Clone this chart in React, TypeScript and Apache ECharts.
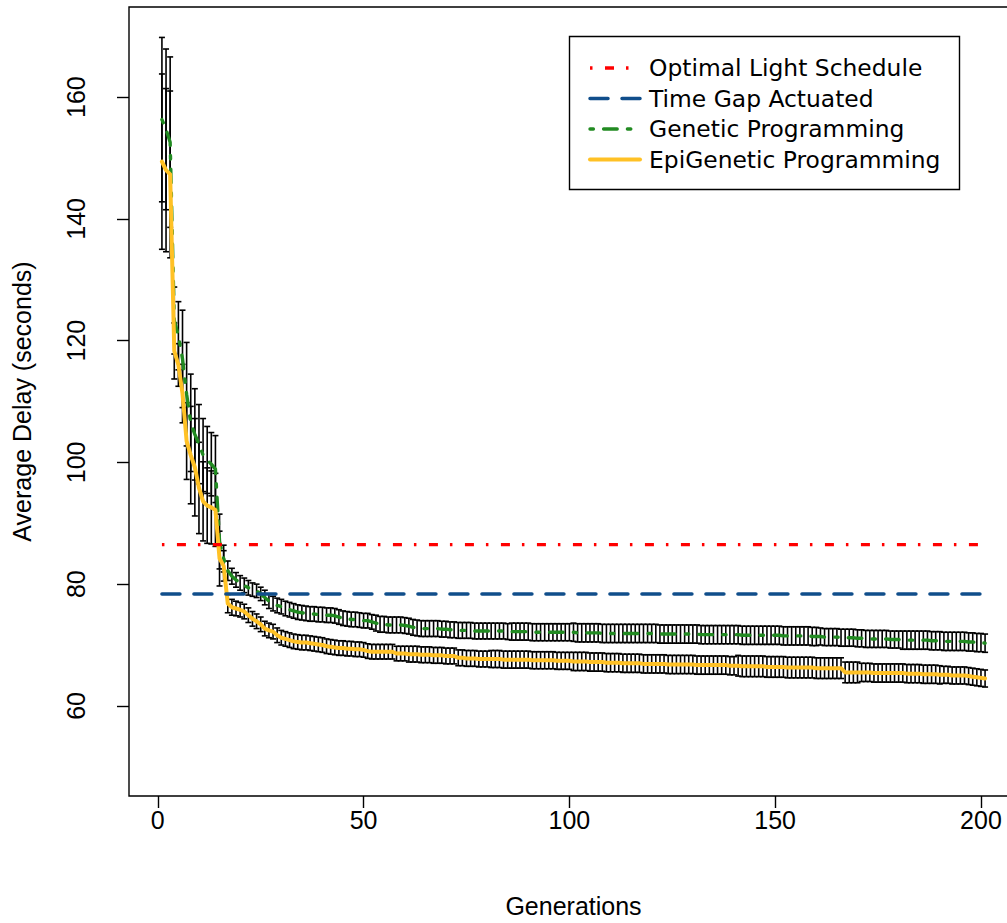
import React, { useEffect, useRef } from "react";
import * as echarts from "echarts";

const xTicks = [0, 50, 100, 150, 200];
const yTicks = [60, 80, 100, 120, 140, 160];

const optimalLightSchedule = 86.5;
const timeGapActuated = 78.4;
const refStart = 1;
const refEnd = 201;

const gpMean = [
  156.3, 154.7, 152.6, 123.3, 120.8, 117.0, 111.2, 106.5, 104.6, 103.0,
  101.2, 100.4, 99.7, 98.9, 87.0, 84.2, 82.2, 81.3, 80.7, 80.2,
  79.8, 79.4, 79.1, 78.9, 78.4, 77.8, 77.2, 76.8, 76.5, 76.3,
  76.0, 75.8, 75.6, 75.4, 75.3, 75.2, 75.1, 75.1, 75.0, 75.0,
  74.9, 74.9, 74.8, 74.6, 74.4, 74.3, 74.2, 74.2, 74.1, 74.0,
  74.0, 73.8, 73.6, 73.4, 73.4, 73.3, 73.3, 73.3, 73.3, 73.2,
  73.1, 72.9, 72.8, 72.7, 72.7, 72.7, 72.7, 72.7, 72.6, 72.6,
  72.5, 72.5, 72.4, 72.4, 72.4, 72.4, 72.3, 72.3, 72.3, 72.3,
  72.3, 72.3, 72.3, 72.3, 72.2, 72.2, 72.2, 72.2, 72.2, 72.2,
  72.1, 72.1, 72.1, 72.1, 72.1, 72.1, 72.1, 72.1, 72.1, 72.1,
  72.1, 72.0, 72.0, 72.0, 72.0, 72.0, 72.0, 71.9, 71.9, 71.9,
  71.9, 71.9, 71.9, 71.9, 71.9, 71.9, 71.9, 71.9, 71.9, 71.9,
  71.9, 71.8, 71.8, 71.8, 71.8, 71.8, 71.8, 71.8, 71.8, 71.8,
  71.8, 71.7, 71.7, 71.7, 71.7, 71.7, 71.7, 71.7, 71.7, 71.7,
  71.7, 71.6, 71.6, 71.6, 71.6, 71.6, 71.6, 71.6, 71.6, 71.6,
  71.6, 71.5, 71.5, 71.5, 71.5, 71.5, 71.5, 71.5, 71.4, 71.4,
  71.4, 71.3, 71.3, 71.3, 71.3, 71.2, 71.2, 71.2, 71.2, 71.1,
  71.1, 71.0, 71.0, 71.0, 71.0, 71.0, 71.0, 70.9, 70.9, 70.9,
  70.8, 70.8, 70.8, 70.8, 70.8, 70.8, 70.8, 70.7, 70.7, 70.7,
  70.6, 70.6, 70.6, 70.6, 70.6, 70.6, 70.5, 70.5, 70.4, 70.4,
  70.3,
];

const gpErr = [
  13.5, 13.2, 14.0, 5.5, 5.6, 8.0, 8.5, 8.0, 7.5, 6.5,
  6.0, 5.5, 5.2, 5.5, 4.5, 2.2, 1.6, 1.3, 1.2, 1.2,
  1.2, 1.2, 1.1, 1.1, 1.1, 1.2, 1.2, 1.2, 1.2, 1.2,
  1.2, 1.2, 1.2, 1.2, 1.2, 1.2, 1.2, 1.2, 1.2, 1.2,
  1.2, 1.2, 1.2, 1.2, 1.2, 1.2, 1.2, 1.2, 1.2, 1.2,
  1.2, 1.2, 1.3, 1.3, 1.3, 1.3, 1.3, 1.3, 1.3, 1.3,
  1.3, 1.3, 1.3, 1.3, 1.3, 1.3, 1.3, 1.3, 1.3, 1.3,
  1.3, 1.3, 1.3, 1.3, 1.3, 1.3, 1.3, 1.3, 1.3, 1.3,
  1.3, 1.3, 1.3, 1.3, 1.3, 1.4, 1.4, 1.4, 1.4, 1.4,
  1.4, 1.4, 1.4, 1.4, 1.4, 1.4, 1.4, 1.4, 1.4, 1.4,
  1.5, 1.5, 1.5, 1.5, 1.5, 1.5, 1.5, 1.5, 1.5, 1.5,
  1.5, 1.5, 1.5, 1.5, 1.5, 1.5, 1.5, 1.5, 1.5, 1.5,
  1.5, 1.5, 1.5, 1.5, 1.5, 1.5, 1.5, 1.5, 1.5, 1.5,
  1.5, 1.5, 1.5, 1.5, 1.5, 1.5, 1.5, 1.5, 1.5, 1.5,
  1.5, 1.5, 1.5, 1.5, 1.5, 1.5, 1.5, 1.5, 1.5, 1.5,
  1.5, 1.5, 1.5, 1.5, 1.5, 1.5, 1.5, 1.5, 1.5, 1.5,
  1.4, 1.4, 1.4, 1.4, 1.4, 1.4, 1.4, 1.4, 1.4, 1.4,
  1.4, 1.4, 1.4, 1.4, 1.4, 1.4, 1.4, 1.4, 1.4, 1.4,
  1.5, 1.5, 1.5, 1.5, 1.5, 1.5, 1.5, 1.5, 1.5, 1.5,
  1.5, 1.5, 1.5, 1.5, 1.5, 1.5, 1.5, 1.5, 1.5, 1.5,
  1.5,
];

const epiMean = [
  149.4, 148.0, 147.3, 118.3, 116.0, 111.3, 103.5, 101.2, 99.2, 95.8,
  93.6, 92.9, 92.6, 92.2, 84.2, 83.0, 76.8, 76.2, 76.0, 75.8,
  75.5, 74.9, 74.3, 73.9, 73.4, 72.7, 72.4, 72.2, 71.6, 71.2,
  71.0, 70.8, 70.6, 70.5, 70.4, 70.4, 70.3, 70.2, 70.1, 70.0,
  69.8, 69.7, 69.6, 69.5, 69.5, 69.4, 69.4, 69.3, 69.3, 69.2,
  69.0, 68.9, 68.9, 68.9, 68.9, 68.9, 68.9, 68.6, 68.6, 68.6,
  68.5, 68.5, 68.5, 68.4, 68.4, 68.4, 68.3, 68.3, 68.3, 68.2,
  68.2, 68.2, 67.9, 67.9, 67.8, 67.8, 67.8, 67.7, 67.7, 67.7,
  67.7, 67.7, 67.7, 67.6, 67.6, 67.6, 67.6, 67.6, 67.6, 67.6,
  67.5, 67.5, 67.5, 67.5, 67.5, 67.5, 67.4, 67.4, 67.4, 67.4,
  67.3, 67.3, 67.3, 67.3, 67.2, 67.2, 67.2, 67.2, 67.1, 67.1,
  67.1, 67.1, 67.0, 67.0, 67.0, 67.0, 67.0, 66.9, 66.9, 66.9,
  66.9, 66.9, 66.9, 66.8, 66.8, 66.8, 66.8, 66.8, 66.8, 66.8,
  66.7, 66.7, 66.7, 66.7, 66.7, 66.7, 66.7, 66.7, 66.6, 66.6,
  66.6, 66.5, 66.5, 66.5, 66.5, 66.5, 66.5, 66.4, 66.4, 66.4,
  66.4, 66.4, 66.3, 66.3, 66.3, 66.3, 66.3, 66.3, 66.3, 66.2,
  66.2, 66.2, 66.2, 66.2, 66.2, 66.2, 65.5, 65.5, 65.5, 65.5,
  65.5, 65.5, 65.5, 65.4, 65.4, 65.4, 65.4, 65.4, 65.4, 65.4,
  65.4, 65.3, 65.3, 65.3, 65.3, 65.2, 65.2, 65.2, 65.2, 65.1,
  65.1, 65.1, 65.0, 65.0, 65.0, 65.0, 64.9, 64.8, 64.7, 64.6,
  64.5,
];

const epiErr = [
  14.4, 13.4, 13.7, 4.6, 3.5, 4.8, 6.3, 8.0, 8.0, 7.5,
  6.5, 6.2, 6.0, 6.0, 4.5, 2.5, 1.5, 1.3, 1.2, 1.2,
  1.2, 1.2, 1.2, 1.2, 1.2, 1.2, 1.2, 1.2, 1.2, 1.2,
  1.2, 1.2, 1.2, 1.2, 1.2, 1.2, 1.2, 1.2, 1.2, 1.2,
  1.2, 1.2, 1.2, 1.2, 1.2, 1.2, 1.2, 1.2, 1.2, 1.2,
  1.2, 1.2, 1.2, 1.2, 1.2, 1.2, 1.2, 1.2, 1.2, 1.2,
  1.3, 1.3, 1.3, 1.3, 1.3, 1.3, 1.3, 1.3, 1.3, 1.3,
  1.3, 1.3, 1.3, 1.3, 1.3, 1.3, 1.3, 1.3, 1.3, 1.3,
  1.4, 1.4, 1.4, 1.4, 1.4, 1.4, 1.4, 1.4, 1.4, 1.4,
  1.4, 1.4, 1.4, 1.4, 1.4, 1.4, 1.4, 1.4, 1.4, 1.4,
  1.5, 1.5, 1.5, 1.5, 1.5, 1.5, 1.5, 1.5, 1.5, 1.5,
  1.5, 1.5, 1.5, 1.5, 1.5, 1.5, 1.5, 1.5, 1.5, 1.5,
  1.5, 1.5, 1.5, 1.5, 1.5, 1.5, 1.5, 1.5, 1.5, 1.5,
  1.5, 1.5, 1.5, 1.5, 1.5, 1.5, 1.5, 1.5, 1.5, 1.5,
  1.7, 1.7, 1.7, 1.7, 1.7, 1.7, 1.7, 1.7, 1.7, 1.7,
  1.7, 1.7, 1.7, 1.7, 1.7, 1.7, 1.7, 1.7, 1.7, 1.7,
  1.7, 1.7, 1.7, 1.7, 1.7, 1.7, 1.7, 1.7, 1.7, 1.7,
  1.5, 1.5, 1.5, 1.5, 1.5, 1.5, 1.5, 1.5, 1.5, 1.5,
  1.5, 1.5, 1.5, 1.5, 1.5, 1.5, 1.5, 1.5, 1.5, 1.5,
  1.4, 1.4, 1.4, 1.4, 1.4, 1.4, 1.4, 1.4, 1.4, 1.4,
  1.4,
];

const legendLabels = [
  "Optimal Light Schedule",
  "Time Gap Actuated",
  "Genetic Programming",
  "EpiGenetic Programming",
];

const RED = "#FF0000";
const BLUE = "#104E8B";
const GREEN = "#228B22";
const GOLD = "#FFC125";

const axisFont = "Liberation Sans";
const legendFont = "DejaVu Sans";

function errorSeries(name: string, mean: number[], err: number[]) {
  return {
    name,
    type: "custom",
    z: 2,
    data: mean.map((m, i) => [i + 1, m - err[i], m + err[i]]),
    encode: { x: 0, y: [1, 2] },
    renderItem: (_params: any, api: any) => {
      const x = api.value(0);
      const lo = api.coord([x, api.value(1)]);
      const hi = api.coord([x, api.value(2)]);
      const hw = 3;
      const st = { stroke: "#000", lineWidth: 1.6 };
      return {
        type: "group",
        children: [
          { type: "line", shape: { x1: lo[0], y1: lo[1], x2: hi[0], y2: hi[1] }, style: st },
          { type: "line", shape: { x1: lo[0] - hw, y1: lo[1], x2: lo[0] + hw, y2: lo[1] }, style: st },
          { type: "line", shape: { x1: hi[0] - hw, y1: hi[1], x2: hi[0] + hw, y2: hi[1] }, style: st },
        ],
      };
    },
  };
}

const legendStyles = [
  { stroke: RED, lineWidth: 3.3, lineDash: [2.5, 12.5, 9, 12], lineCap: "butt" },
  { stroke: BLUE, lineWidth: 3.5, lineDash: [18, 14], lineCap: "round" },
  { stroke: GREEN, lineWidth: 3.4, lineDash: [3.4, 10.2, 13.6, 10.2], lineCap: "round" },
  { stroke: GOLD, lineWidth: 4, lineCap: "round" },
];

export default function App() {
  const ref = useRef<HTMLDivElement>(null);
  useEffect(() => {
    if (!ref.current) return;
    const chart = echarts.init(ref.current, undefined, { renderer: "svg" });
    const rowY = [68, 98.5, 129, 159.5];
    const legendGraphics: any[] = [
      {
        type: "rect",
        shape: { x: 569.5, y: 36.5, width: 390, height: 153 },
        style: { fill: "#fff", stroke: "#000", lineWidth: 1.4 },
        z: 10,
      },
    ];
    legendLabels.forEach((label, i) => {
      legendGraphics.push({
        type: "line",
        shape: { x1: 590, y1: rowY[i], x2: 640, y2: rowY[i] },
        style: { ...legendStyles[i] },
        z: 11,
      });
      legendGraphics.push({
        type: "text",
        x: 649,
        y: rowY[i],
        style: {
          text: label,
          fill: "#000",
          fontSize: 23.4,
          fontFamily: legendFont,
          align: "left",
          verticalAlign: "middle",
        },
        z: 11,
      });
    });

    chart.setOption({
      animation: false,
      backgroundColor: "#fff",
      grid: {
        left: 129,
        top: 7,
        width: 889,
        height: 792,
        show: true,
        borderColor: "#000",
        borderWidth: 1.4,
        backgroundColor: "transparent",
      },
      xAxis: {
        type: "value",
        min: -7,
        max: 209,
        name: "Generations",
        nameLocation: "middle",
        nameGap: 97,
        nameTextStyle: { fontFamily: axisFont, fontSize: 25, color: "#000" },
        axisLine: { show: false, onZero: false },
        splitLine: { show: false },
        axisTick: {
          show: true,
          length: 12,
          customValues: xTicks,
          lineStyle: { color: "#000", width: 1.4 },
        },
        axisLabel: {
          customValues: xTicks,
          margin: 11,
          fontFamily: axisFont,
          fontSize: 25,
          color: "#000",
        },
      },
      yAxis: {
        type: "value",
        min: 45.2,
        max: 174.8,
        name: "Average Delay (seconds)",
        nameLocation: "middle",
        nameGap: 95,
        nameRotate: 90,
        nameMoveOverlap: false,
        nameTextStyle: { fontFamily: axisFont, fontSize: 25, color: "#000" },
        axisLine: { show: false, onZero: false },
        splitLine: { show: false },
        axisTick: {
          show: true,
          length: 12,
          customValues: yTicks,
          lineStyle: { color: "#000", width: 1.4 },
        },
        axisLabel: {
          customValues: yTicks,
          rotate: 90,
          margin: 41,
          fontFamily: axisFont,
          fontSize: 25,
          color: "#000",
        },
      },
      series: [
        errorSeries("GP error", gpMean, gpErr),
        errorSeries("EpiGP error", epiMean, epiErr),
        {
          name: legendLabels[2],
          type: "line",
          z: 3,
          symbol: "none",
          data: gpMean.map((v, i) => [i + 1, v]),
          lineStyle: { color: GREEN, width: 3.4, type: [3.4, 10.2, 13.6, 10.2], cap: "round", join: "round" },
        },
        {
          name: legendLabels[3],
          type: "line",
          z: 4,
          symbol: "none",
          data: epiMean.map((v, i) => [i + 1, v]),
          lineStyle: { color: GOLD, width: 4, type: "solid", cap: "round", join: "round" },
        },
        {
          name: legendLabels[0],
          type: "line",
          z: 5,
          symbol: "none",
          data: [
            [refStart, optimalLightSchedule],
            [refEnd, optimalLightSchedule],
          ],
          lineStyle: { color: RED, width: 3.3, type: [2.5, 12.5, 9, 12], cap: "butt" },
        },
        {
          name: legendLabels[1],
          type: "line",
          z: 5,
          symbol: "none",
          data: [
            [refStart, timeGapActuated],
            [refEnd, timeGapActuated],
          ],
          lineStyle: { color: BLUE, width: 3.5, type: [18, 14], cap: "round" },
        },
      ],
      graphic: legendGraphics,
    });
    return () => chart.dispose();
  }, []);
  return (
    <div
      style={{
        position: "absolute",
        left: 0,
        top: 0,
        width: 1007,
        height: 923,
        overflow: "hidden",
        background: "#fff",
      }}
    >
      <div ref={ref} style={{ width: 1030, height: 923 }} />
    </div>
  );
}
